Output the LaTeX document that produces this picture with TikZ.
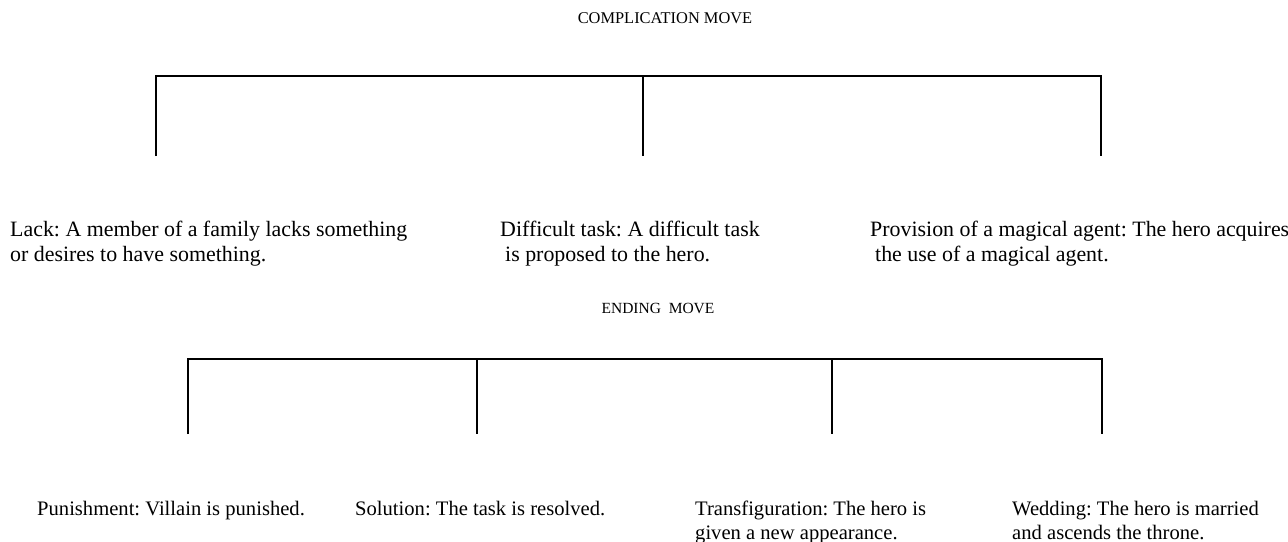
\documentclass[tikz,border=0pt]{standalone}
\usepackage{fontspec}
\setmainfont{Liberation Serif}
\frenchspacing
\begin{document}
\begin{tikzpicture}[x=1pt,y=-1pt,
  bodytop/.style={anchor=base west, inner sep=0pt, font=\fontsize{21.9}{25}\selectfont},
  bodybot/.style={anchor=base west, inner sep=0pt, font=\fontsize{20.6}{25}\selectfont},
  head/.style={anchor=base, inner sep=0pt, font=\fontsize{16.4}{18}\selectfont},
  headb/.style={anchor=base, inner sep=0pt, font=\fontsize{15.5}{18}\selectfont},
  bracket/.style={line width=2.6pt, line join=miter}]
\useasboundingbox (0,0) rectangle (1288,541);

% ---------- Complication move ----------
\node[head] (comp) at (665,23) {COMPLICATION MOVE};
\coordinate (c1t) at (156,76);  \coordinate (c1b) at (156,156);
\coordinate (c2t) at (643,76);  \coordinate (c2b) at (643,156);
\coordinate (c3t) at (1101,76); \coordinate (c3b) at (1101,156);
\draw[bracket] (c1b) -- (c1t) -- (c3t) -- (c3b);
\draw[bracket] (c2t) -- (c2b);

\node[bodytop] (lackA) at (10,236) {Lack: A member of a family lacks something};
\node[bodytop] (lackB) at (10,261) {or desires to have something.};
\node[bodytop] (taskA) at (500,236) {Difficult task: A difficult task};
\node[bodytop] (taskB) at (505,261) {is proposed to the hero.};
\node[bodytop] (provA) at (870,236) {Provision of a magical agent: The hero acquires};
\node[bodytop] (provB) at (875,261) {the use of a magical agent.};

% ---------- Ending move ----------
\node[headb] (endm) at (658,313) {ENDING\ \ MOVE};
\coordinate (e1t) at (188,359);  \coordinate (e1b) at (188,434);
\coordinate (e2t) at (477,359);  \coordinate (e2b) at (477,434);
\coordinate (e3t) at (832,359);  \coordinate (e3b) at (832,434);
\coordinate (e4t) at (1102,359); \coordinate (e4b) at (1102,434);
\draw[bracket] (e1b) -- (e1t) -- (e4t) -- (e4b);
\draw[bracket] (e2t) -- (e2b);
\draw[bracket] (e3t) -- (e3b);

\node[bodybot] (pun) at (37,515) {Punishment: Villain is punished.};
\node[bodybot] (sol) at (355,515) {Solution: The task is resolved.};
\node[bodybot] (traA) at (695,515) {Transfiguration: The hero is};
\node[bodybot] (traB) at (695,539) {given a new appearance.};
\node[bodybot] (wedA) at (1012,515) {Wedding: The hero is married};
\node[bodybot] (wedB) at (1012,539) {and ascends the throne.};
\end{tikzpicture}
\end{document}
